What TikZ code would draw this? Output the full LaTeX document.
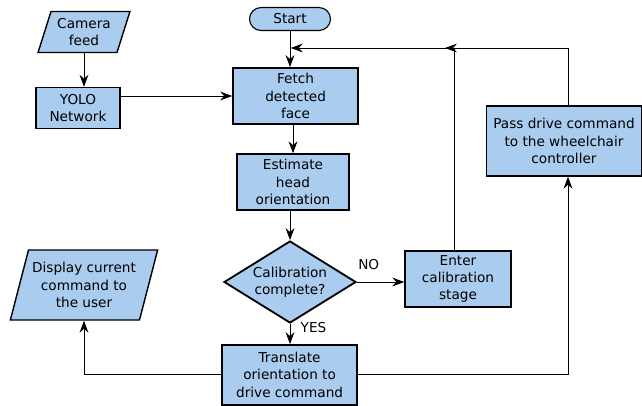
\documentclass[tikz,border=0pt]{standalone}
\usepackage{fontspec}
\setmainfont{DejaVu Sans}
\usetikzlibrary{shapes.geometric,arrows.meta}
\definecolor{boxblue}{RGB}{170,204,238}

\begin{document}
\begin{tikzpicture}[font=\fontsize{9.7}{12.3}\selectfont,
		process/.style={draw,fill=boxblue,line width=1pt,align=center,inner sep=1pt},
		io/.style={trapezium,trapezium left angle=70,trapezium right angle=110,trapezium stretches=true,draw,fill=boxblue,line width=1pt,align=center,inner sep=1pt},
		flow/.style={line width=.6pt,-{Stealth[length=3mm,width=2.2mm,inset=1mm]}}]
							\useasboundingbox (0,0) rectangle (16.05,-10.125);
							\node (cam) at (2.1,-.8) [io,minimum width=2.3cm,minimum height=1.025cm]{Camera\\feed};
							\node (yolo) at (1.95,-2.7) [process,minimum width=2.1cm,minimum height=1.025cm]{YOLO\\Network};
							\node (start) at (7.25,-.475) [draw,fill=boxblue,line width=.8pt,rounded corners=.29cm,minimum width=2.025cm,minimum height=.575cm]{Start};
							\node (fetch) at (7.39,-2.4) [process,line width=1.3pt,minimum width=3.125cm,minimum height=1.4cm]{Fetch\\detected\\face};
							\node (est) at (7.325,-4.55) [process,minimum width=2.8cm,minimum height=1.4cm]{Estimate\\head\\orientation};
							\node (calib) at (7.25,-7.05) [diamond,aspect=1.6,draw,fill=boxblue,line width=1.3pt,align=center,inner sep=0pt,minimum width=3.3cm,minimum height=2.05cm]{Calibration\\complete?};
							\node (enter) at (11.45,-6.975) [process,minimum width=2.65cm,minimum height=1.4cm]{Enter\\calibration\\stage};
							\node (pass) at (14.1,-3.525) [process,minimum width=3.875cm,minimum height=1.75cm]{Pass drive command\\to the wheelchair\\controller};
							\node (disp) at (2.1,-7.125) [io,minimum width=3.7cm,minimum height=1.75cm]{Display current\\command to\\the user};
							\node (trans) at (7.24,-9.37) [process,minimum width=3.375cm,minimum height=1.5cm]{Translate\\orientation to\\drive command};
							\coordinate (looptop) at (7.27,-1.2);
							\coordinate (joint) at (11.125,-1.2);
							% forward path
							\draw[flow] (cam.south) -- (cam.south |- yolo.north);
							\draw[flow] (yolo.east |- fetch.west) -- (fetch.west);
							\draw[flow] (start.south) -- (start.south |- fetch.north);
							\draw[flow] (est.north |- fetch.south) -- (est.north);
							\draw[flow] (calib.north |- est.south) -- (calib.north);
							\draw[flow] (calib.east) -- (calib.east -| enter.west) node [pos=.25,above=5pt]{NO};
							\draw[flow] (calib.south) -- (calib.south |- trans.north) node [pos=.2,right=4pt]{YES};
							% loops back to fetch
							\draw[flow] ([xshift=-.1cm]enter.north) |- (looptop);
							\draw[flow] ([xshift=.1cm]pass.north) |- (joint);
							\draw[flow] (trans.west) -| (disp.south);
							\draw[flow] (trans.east) -| ([xshift=.1cm]pass.south);
						\end{tikzpicture}
\end{document}
